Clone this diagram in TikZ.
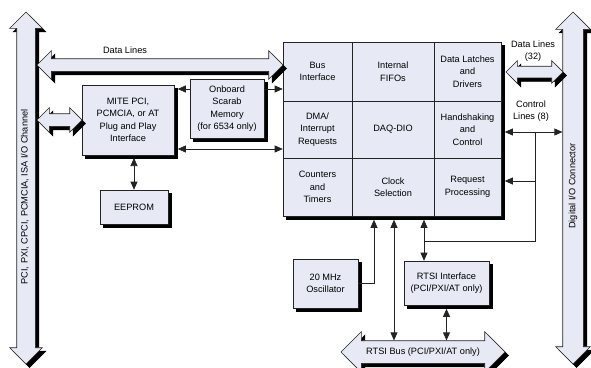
\documentclass[tikz,border=0pt]{standalone}
\usepackage{fontspec}
\setmainfont{Liberation Sans}
\usetikzlibrary{arrows.meta}
\usetikzlibrary{shapes.arrows}
\definecolor{boxfill}{RGB}{231,234,244}
\definecolor{inkgray}{RGB}{35,35,35}
\colorlet{shadowink}{black}

% node with a black copy of it set off below right as its shadow
\newcommand\shadowed[4][]{%
  \node[xshift=3.5pt, yshift=-3.5pt, #1, fill=shadowink, draw=shadowink] at #3 {};
  \node[#1] (#2) at #3 {#4};}

\begin{document}
\begin{tikzpicture}[
            x=1pt, y=-1pt,
            font=\fontsize{9.2}{12.5}\selectfont,
            >={Triangle[length=8pt,width=7pt]},
            box/.style={draw=inkgray, fill=boxfill, line width=0.6pt, align=center, inner sep=1pt},
            cell/.style={draw=inkgray, fill=boxfill, line width=0.6pt, align=center, inner sep=0pt},
            fatarrow/.style={double arrow, double arrow tip angle=90, draw=inkgray, fill=boxfill,
                line width=0.6pt, inner xsep=0pt, text height=0pt, text depth=0pt},
            wire/.style={line width=0.7pt, draw=inkgray}
            ]
            \useasboundingbox (0,0) rectangle (591,367);

            % buses at both sides
            \shadowed[fatarrow, rotate=90, minimum height=352pt, inner ysep=9pt, double arrow head extend=7pt]{pcibus}{(26,188)}{}
            \node[rotate=90] (pcilabel) at (25,197) {PCI, PXI, CPCI, PCMCIA, ISA I/O Channel};
            \shadowed[fatarrow, rotate=90, minimum height=352pt, inner ysep=10pt, double arrow head extend=7pt]{diobus}{(573,188)}{}
            \node[rotate=90] (diolabel) at (573,186) {Digital I/O Connector};

            % DAQ-DIO block
            \shadowed[box, minimum width=218pt, minimum height=174pt]{blk}{(392,129)}{}
            \node[cell, minimum width=69pt, minimum height=59pt] (c11) at (317.5,71.5) {Bus\\Interface};
            \node[cell, minimum width=82pt, minimum height=59pt] (c12) at (393,71.5) {Internal\\FIFOs};
            \node[cell, minimum width=67pt, minimum height=59pt] (c13) at (467.5,71.5) {Data Latches\\and\\Drivers};
            \node[cell, minimum width=69pt, minimum height=57pt] (c21) at (317.5,129.5) {DMA/\\Interrupt\\Requests};
            \node[cell, minimum width=82pt, minimum height=57pt] (c22) at (393,129.5) {DAQ-DIO};
            \node[cell, minimum width=67pt, minimum height=57pt] (c23) at (467.5,129.5) {Handshaking\\and\\Control};
            \node[cell, minimum width=69pt, minimum height=58pt] (c31) at (317.5,187) {Counters\\and\\Timers};
            \node[cell, minimum width=82pt, minimum height=58pt] (c32) at (393,187) {Clock\\Selection};
            \node[cell, minimum width=67pt, minimum height=58pt] (c33) at (467.5,187) {Request\\Processing};
            \coordinate (blkright) at ([xshift=3.5pt]blk.east);
            \coordinate (blkbottom) at ([yshift=-3.5pt]blk.south);

            % other boxes
            \shadowed[box, minimum width=92pt, minimum height=70pt]{mite}{(128,120)}{MITE PCI,\\PCMCIA, or AT\\Plug and Play\\Interface}
            \shadowed[box, minimum width=74pt, minimum height=59pt]{scarab}{(227,108.5)}{Onboard\\Scarab\\Memory\\(for 6534 only)}
            \shadowed[box, minimum width=68pt, minimum height=34pt]{eeprom}{(134,207)}{EEPROM}
            \shadowed[box, minimum width=65pt, minimum height=49pt]{osc}{(325.5,283.5)}{20 MHz\\Oscillator}
            \shadowed[box, minimum width=85pt, minimum height=44pt]{rtsi}{(446.5,283)}{RTSI Interface\\(PCI/PXI/AT only)}
            \coordinate (miteright) at ([xshift=3.5pt]mite.east);
            \coordinate (rtsibot) at ([yshift=-3.5pt]rtsi.south);

            % wide data paths
            \shadowed[fatarrow, minimum height=246pt, inner ysep=6pt, double arrow head extend=8pt]{datalines}{(160,65)}{}
            \node (dllabel) at (125,50) {Data Lines};
            \shadowed[fatarrow, minimum height=45pt, inner ysep=6pt, double arrow head extend=6pt]{pcilink}{(59.5,120)}{}
            \shadowed[fatarrow, minimum height=57pt, inner ysep=5.5pt, double arrow head extend=5.5pt]{dl32}{(534.5,72)}{}
            \node[align=center] (dl32label) at (533,51) {Data Lines\\(32)};
            \shadowed[fatarrow, minimum height=164pt, text height=7pt, text depth=2pt, inner ysep=6.5pt,
                double arrow head extend=9pt]{rtsibus}{(423,352)}{RTSI Bus (PCI/PXI/AT only)}

            % single lines
            \draw[wire,->] (scarab.west |- 0,89) -- (miteright |- 0,89);
            \draw[wire,->] (scarab.east |- 0,89) -- (blk.west |- 0,89);
            \draw[wire,<->] (miteright |- 0,149) -- (blk.west |- 0,149);
            \draw[wire,<->] (eeprom.north |- 0,158) -- (eeprom.north);
            \draw[wire,->] (osc.east) -| (374,0 |- blkbottom);
            \draw[wire,<->] (394,0 |- blkbottom) -- (394,0 |- rtsibus.north);
            \draw[wire,<->] (424,0 |- blkbottom) -- (424,0 |- rtsi.north);
            \draw[wire,<->] (rtsibot) -- (rtsibot |- rtsibus.north);

            % control lines
            \coordinate (tap) at (535,132);
            \node[align=center] (ctllabel) at (531,111) {Control\\Lines (8)};
            \draw[wire,<->] (blkright |- tap) -- (diobus.north |- tap);
            \draw[wire] (tap) -- (tap |- 0,241) -- (424,241);
            \draw[wire,->] (tap |- 0,181) -- (blkright |- 0,181);
        \end{tikzpicture}
\end{document}
